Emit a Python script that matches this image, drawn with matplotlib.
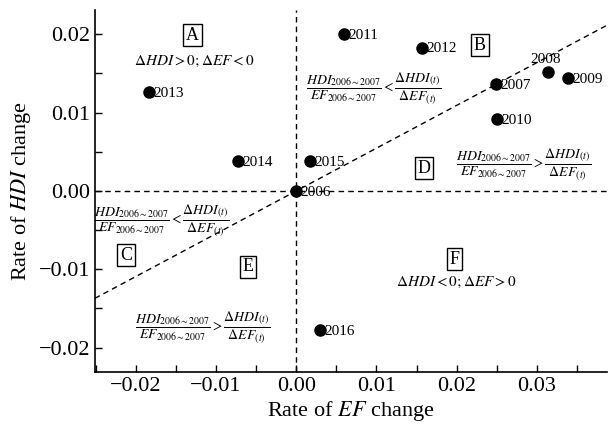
import matplotlib
matplotlib.use('Agg')
import matplotlib.pyplot as plt
import numpy as np

plt.rcParams['font.family'] = ['Liberation Serif', 'DejaVu Serif']
plt.rcParams['mathtext.fontset'] = 'stix'

# Data
years = ['2006', '2007', '2008', '2009', '2010', '2011', '2012', '2013', '2014', '2015', '2016']
ef_change = [0.0, 0.0249, 0.0314, 0.0339, 0.0250, 0.0060, 0.0157, -0.0183, -0.0072, 0.0017, 0.0030]
hdi_change = [0.0, 0.0136, 0.0152, 0.0144, 0.0092, 0.0200, 0.0183, 0.0126, 0.0038, 0.0038, -0.0178]

xticks = [-0.02, -0.01, 0.00, 0.01, 0.02, 0.03]
yticks = [-0.02, -0.01, 0.00, 0.01, 0.02]

fig = plt.figure(figsize=(6.08, 4.33), dpi=100)
ax = fig.add_axes([0.156, 0.141, 0.842, 0.836])

xmin, xmax = -0.0251, 0.0387
ymin, ymax = -0.0231, 0.0231
ax.set_xlim(xmin, xmax)
ax.set_ylim(ymin, ymax)

# reference lines
ax.axhline(0, color='black', ls=(0, (4, 3)), lw=1.0, zorder=1)
ax.axvline(0, color='black', ls=(0, (4, 3)), lw=1.0, zorder=1)
slope = hdi_change[1] / ef_change[1]
xs = np.array([xmin, xmax])
ax.plot(xs, slope * xs, color='black', ls=(0, (4, 3)), lw=1.0, zorder=1)

ax.plot(ef_change, hdi_change, 'o', color='black', markersize=8, zorder=3)
for x, y, yr in zip(ef_change, hdi_change, years):
    if yr == '2008':
        ax.annotate(yr, (x, y), xytext=(-13, 4), textcoords='offset points',
                    fontsize=11, va='bottom', ha='left')
    else:
        ax.annotate(yr, (x, y), xytext=(3, -1), textcoords='offset points',
                    fontsize=11, va='center', ha='left')

box = dict(boxstyle='square,pad=0.15', fc='white', ec='black', lw=1.0)
letters = [('A', -0.01295, 0.0199), ('B', 0.0229, 0.0186), ('C', -0.0212, -0.0082),
           ('D', 0.0159, 0.0029), ('E', -0.0060, -0.0097), ('F', 0.0197, -0.0087)]
for t, x, y in letters:
    ax.text(x, y, t, fontsize=13, ha='center', va='center', bbox=box)

ax.text(-0.0127, 0.01656, r'$\Delta HDI>0;\Delta EF<0$', fontsize=11, ha='center', va='center')
ax.text(0.0199, -0.0117, r'$\Delta HDI<0;\Delta EF>0$', fontsize=11, ha='center', va='center')

frac_lt = r'$\dfrac{HDI_{2006\sim2007}}{EF_{2006\sim2007}}<\dfrac{\Delta HDI_{(t)}}{\Delta EF_{(t)}}$'
frac_gt = r'$\dfrac{HDI_{2006\sim2007}}{EF_{2006\sim2007}}>\dfrac{\Delta HDI_{(t)}}{\Delta EF_{(t)}}$'
ax.text(0.0097, 0.0131, frac_lt, fontsize=10, ha='center', va='center')
ax.text(0.0283, 0.0034, frac_gt, fontsize=10, ha='center', va='center')
ax.text(-0.0168, -0.0037, frac_lt, fontsize=10, ha='center', va='center')
ax.text(-0.0117, -0.0174, frac_gt, fontsize=10, ha='center', va='center')

ax.spines['top'].set_visible(False)
ax.spines['right'].set_visible(False)
ax.spines['left'].set_linewidth(1.2)
ax.spines['bottom'].set_linewidth(1.2)

ax.set_xticks(xticks)
ax.set_xticklabels(['\u22120.02', '\u22120.01', '0.00', '0.01', '0.02', '0.03'])
ax.set_yticks(yticks)
ax.set_yticklabels(['\u22120.02', '\u22120.01', '0.00', '0.01', '0.02'])
ax.set_xticks(np.arange(-0.025, 0.0386, 0.005), minor=True)
ax.set_yticks(np.arange(-0.02, 0.0231, 0.005), minor=True)
ax.tick_params(which='both', direction='in', length=5, width=1.0, labelsize=16)

ax.set_xlabel(r'Rate of $\mathit{EF}$ change', fontsize=16, labelpad=2)
ax.set_ylabel(r'Rate of $\mathit{HDI}$ change', fontsize=16, labelpad=4)

fig.savefig('out.png', dpi=100)
